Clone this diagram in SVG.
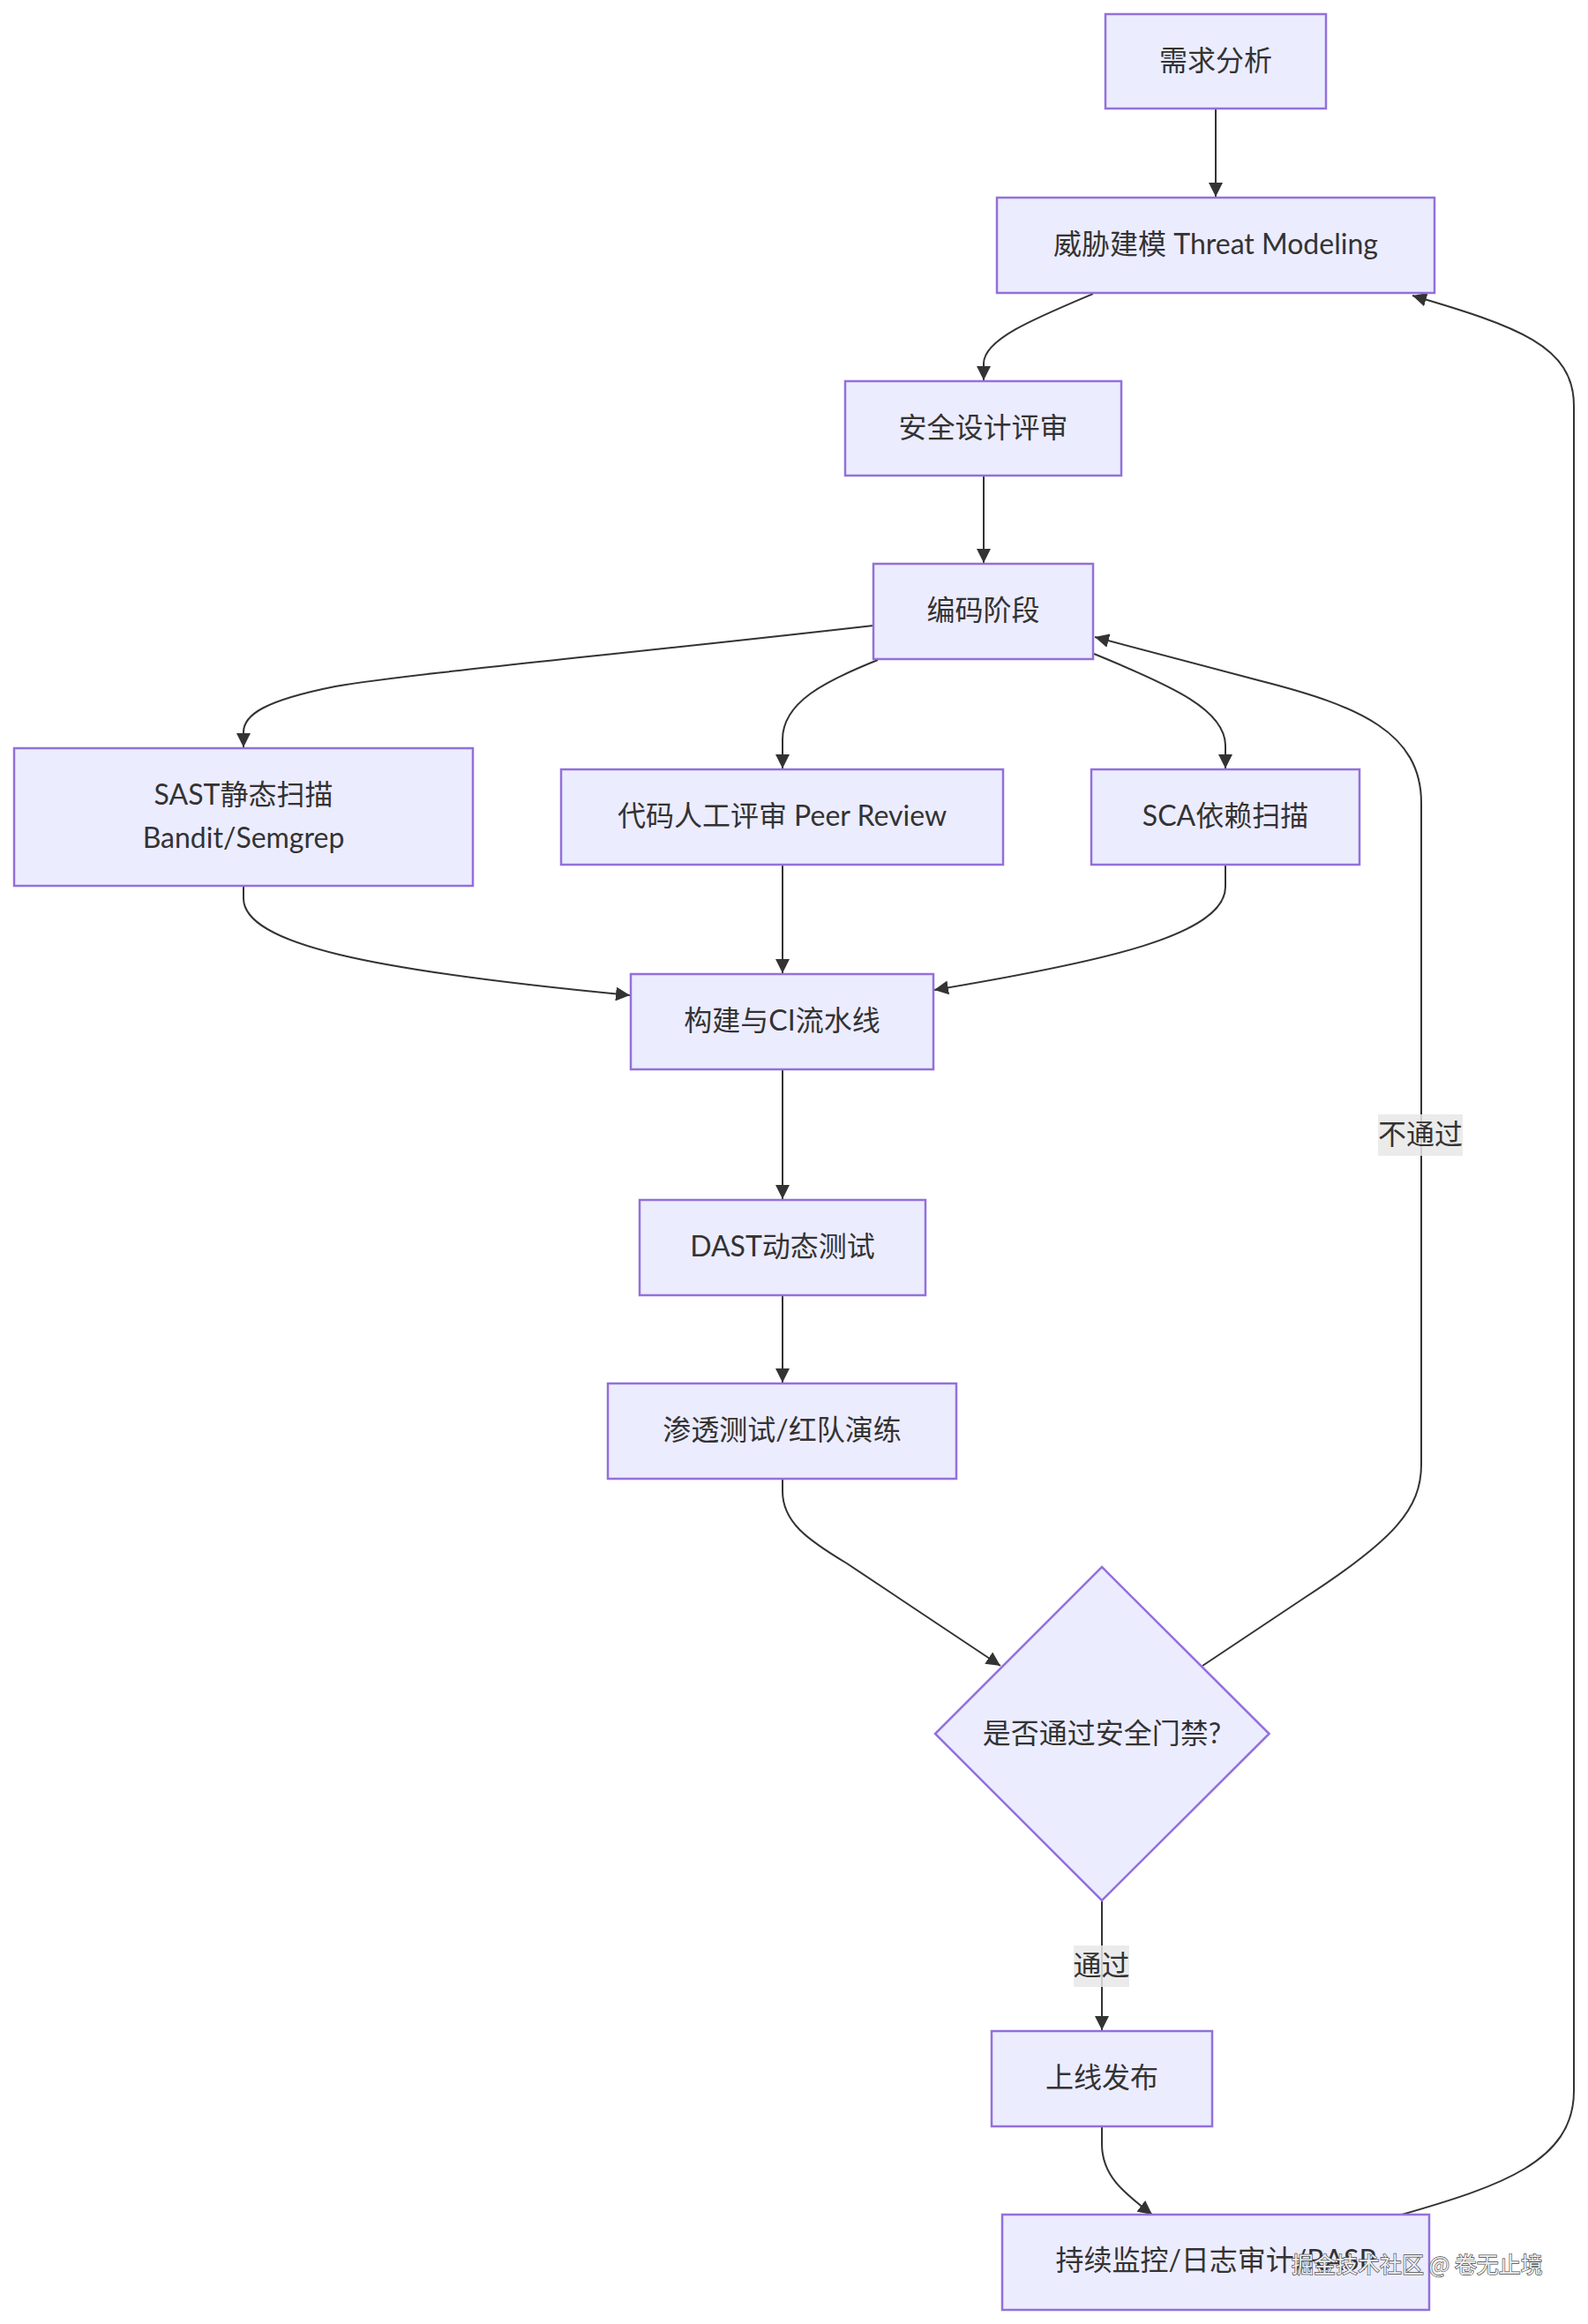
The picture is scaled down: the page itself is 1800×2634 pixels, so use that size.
<svg xmlns="http://www.w3.org/2000/svg" width="1800" height="2634" viewBox="0 0 1800 2634">
<style>
.node rect,.node polygon{fill:#ECECFF;stroke:#9370DB;stroke-width:2.5}
.lbl{font-family:"Lato","Noto Sans CJK SC",sans-serif;font-size:32px;fill:#333333;text-anchor:middle;dominant-baseline:central}
.edge{fill:none;stroke:#333333;stroke-width:2;marker-end:url(#arrow)}
.elbg{fill:#e8e8e8;opacity:0.85}
.wm{font-family:"Noto Sans CJK SC",sans-serif;font-size:25px;fill:#eeeeee;stroke:#4a4a4a;stroke-width:1.3;paint-order:stroke;dominant-baseline:central}
</style>
<defs>
<marker id="arrow" viewBox="0 0 10 10" refX="10" refY="5" markerUnits="userSpaceOnUse" markerWidth="16" markerHeight="16" orient="auto">
<path d="M0,0 L10,5 L0,10 z" fill="#333333"/>
</marker>
</defs>
<rect width="1800" height="2634" fill="#ffffff"/>
<g id="edges">
<path class="edge" d="M1378,123 L1378,223"/>
<path class="edge" d="M1239,333 C1170,362 1115,385 1115,412 L1115,431"/>
<path class="edge" d="M1115,539 L1115,638"/>
<path class="edge" d="M990,709 C700,742 460,764 380,778 C300,794 276,810 276,830 L276,847"/>
<path class="edge" d="M995,748 C935,772 887,796 887,838 L887,871"/>
<path class="edge" d="M1240,741 C1330,778 1389,805 1389,845 L1389,871"/>
<path class="edge" d="M887,980 L887,1103"/>
<path class="edge" d="M276,1004 L276,1018 C276,1070 420,1100 714,1128"/>
<path class="edge" d="M1389,980 L1389,1005 C1389,1060 1250,1090 1059,1122"/>
<path class="edge" d="M887,1212 L887,1359"/>
<path class="edge" d="M887,1468 L887,1567"/>
<path class="edge" d="M887,1676 L887,1690 C887,1725 915,1745 960,1772 L1134,1888"/>
<path class="edge" d="M1363,1888 L1480,1810 C1580,1745 1611,1710 1611,1660 L1611,910 C1611,830 1540,800 1430,772 L1241,722"/>
<path class="edge" d="M1249,2154 L1249,2301"/>
<path class="edge" d="M1249,2410 L1249,2430 C1249,2465 1272,2484 1306,2510"/>
<path class="edge" d="M1589,2510 C1700,2478 1784,2450 1784,2370 L1784,460 C1784,392 1720,370 1601,335"/>
<g id="edge-label-fail">
<rect class="elbg" x="1562" y="1263" width="96" height="47"/>
<text class="lbl" x="1610" y="1284">不通过</text>
</g>
<g id="edge-label-pass">
<rect class="elbg" x="1217" y="2205" width="63" height="47"/>
<text class="lbl" x="1248.5" y="2226">通过</text>
</g>
</g>
<g id="n1" class="node"><rect x="1253" y="16" width="250" height="107"/><text class="lbl" x="1378" y="67">需求分析</text></g>
<g id="n2" class="node"><rect x="1130" y="224" width="496" height="108"/><text class="lbl" x="1378" y="275.5">威胁建模 Threat Modeling</text></g>
<g id="n3" class="node"><rect x="958" y="432" width="313" height="107"/><text class="lbl" x="1114.5" y="483">安全设计评审</text></g>
<g id="n4" class="node"><rect x="990" y="639" width="249" height="108"/><text class="lbl" x="1114.5" y="690.5">编码阶段</text></g>
<g id="n5" class="node"><rect x="16" y="848" width="520" height="156"/><text class="lbl" x="276" y="899">SAST静态扫描</text><text class="lbl" x="276" y="948">Bandit/Semgrep</text></g>
<g id="n6" class="node"><rect x="636" y="872" width="501" height="108"/><text class="lbl" x="886.5" y="923.5">代码人工评审 Peer Review</text></g>
<g id="n7" class="node"><rect x="1237" y="872" width="304" height="108"/><text class="lbl" x="1389" y="923.5">SCA依赖扫描</text></g>
<g id="n8" class="node"><rect x="715" y="1104" width="343" height="108"/><text class="lbl" x="886.5" y="1155.5">构建与CI流水线</text></g>
<g id="n9" class="node"><rect x="725" y="1360" width="324" height="108"/><text class="lbl" x="887" y="1411.5">DAST动态测试</text></g>
<g id="n10" class="node"><rect x="689" y="1568" width="395" height="108"/><text class="lbl" x="886.5" y="1619.5">渗透测试/红队演练</text></g>
<g id="n11" class="node"><polygon points="1249,1776 1438.6,1965 1249,2154 1060,1965"/><text class="lbl" x="1249" y="1963">是否通过安全门禁?</text></g>
<g id="n12" class="node"><rect x="1124" y="2302" width="250" height="108"/><text class="lbl" x="1249" y="2353.5">上线发布</text></g>
<g id="n13" class="node"><rect x="1136" y="2510" width="484" height="108"/><text class="lbl" x="1378" y="2560">持续监控/日志审计/RASP</text></g>
<text class="wm" x="1464" y="2565">掘金技术社区 @ 卷无止境</text>
</svg>
